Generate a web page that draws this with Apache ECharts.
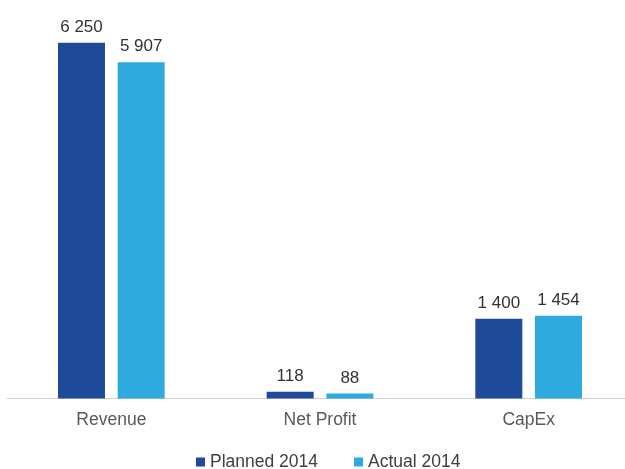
<!DOCTYPE html>
<html>
<head>
<meta charset="utf-8">
<script src="https://cdn.jsdelivr.net/npm/echarts@6/dist/echarts.min.js"></script>
<style>
html,body{margin:0;padding:0;background:#fff;overflow:hidden;width:625px;height:469px;}
#chart{width:640px;height:469px;}
</style>
</head>
<body>
<div id="chart"></div>
<script>
const categories = ['Revenue', 'Net Profit', 'CapEx'];
const planned2014 = [6250, 118, 1400];
const actual2014 = [5907, 88, 1454];
const seriesNames = ['Planned 2014', 'Actual 2014'];

const fmt = v => String(v).replace(/\B(?=(\d{3})+(?!\d))/g, ' ');

const chart = echarts.init(document.getElementById('chart'));
const labelStyle = {
  show: true,
  position: 'top',
  distance: 7,
  color: '#333333',
  fontFamily: 'Liberation Sans, Arial, sans-serif',
  fontSize: 17,
  formatter: p => fmt(p.value)
};
chart.setOption({
  animation: false,
  backgroundColor: '#ffffff',
  textStyle: { fontFamily: 'Liberation Sans, Arial, sans-serif' },
  grid: { left: 7, top: 0, width: 626, bottom: 70.5, containLabel: false },
  legend: {
    data: seriesNames,
    left: 191,
    top: 448,
    itemWidth: 9,
    itemHeight: 9,
    itemGap: 36,
    icon: 'rect',
    textStyle: { fontSize: 17.5, color: '#404040', fontFamily: 'Liberation Sans, Arial, sans-serif' }
  },
  xAxis: {
    type: 'category',
    data: categories,
    axisLine: { show: true, lineStyle: { color: '#cfcfcf', width: 1 } },
    axisTick: { show: false },
    axisLabel: { margin: 13, fontSize: 17.5, color: '#595959', fontFamily: 'Liberation Sans, Arial, sans-serif' }
  },
  yAxis: {
    type: 'value',
    min: 0,
    max: 7000,
    show: false,
    splitLine: { show: false }
  },
  series: [
    {
      name: seriesNames[0],
      type: 'bar',
      data: planned2014,
      barWidth: 47,
      barGap: '27%',
      itemStyle: { color: '#1f4a9a' },
      label: labelStyle
    },
    {
      name: seriesNames[1],
      type: 'bar',
      data: actual2014,
      barWidth: 47,
      barGap: '27%',
      itemStyle: { color: '#2eaadf' },
      label: labelStyle
    }
  ]
});
</script>
</body>
</html>
